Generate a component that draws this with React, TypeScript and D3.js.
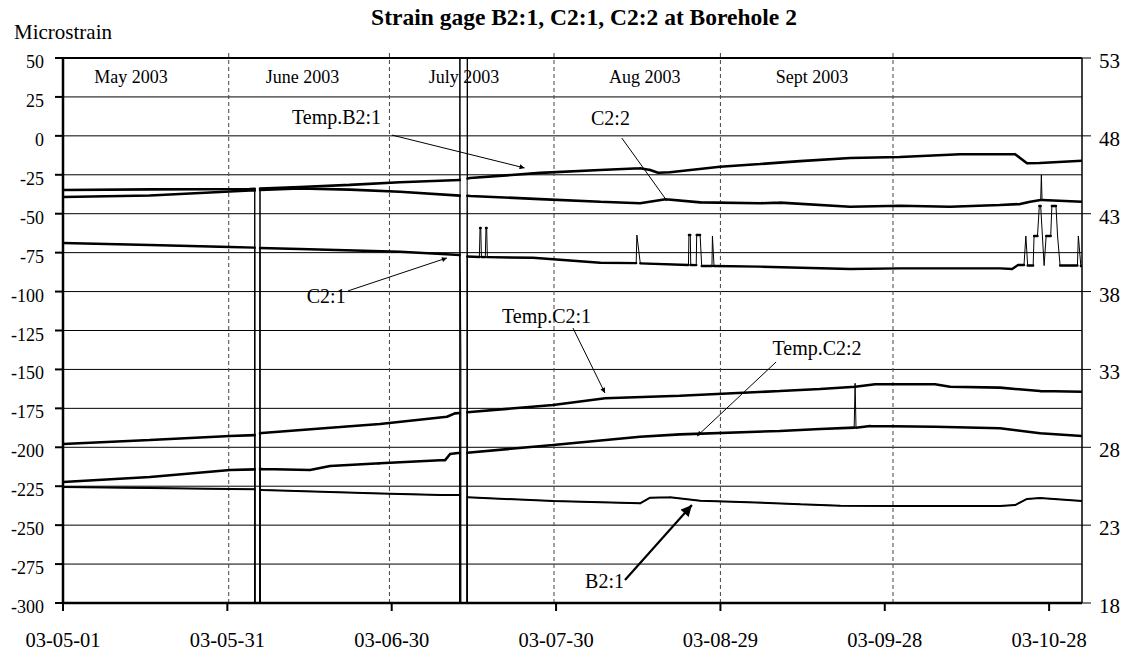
import React, { useEffect, useRef } from 'react';
import * as d3 from 'd3';

// logger dropouts read as values far off the scale
const LOW_L = -1000;
const LOW_R = -50;
const HIGH_R = 120;

const leftTicks = [50, 25, 0, -25, -50, -75, -100, -125, -150, -175, -200, -225, -250, -275, -300];
const rightTicks = [53, 48, 43, 38, 33, 28, 23, 18];
const dateTicks = ['2003-05-01', '2003-05-31', '2003-06-30', '2003-07-30', '2003-08-29', '2003-09-28', '2003-10-28'];
const monthSeparators = ['2003-05-31 06:00', '2003-06-29 14:00', '2003-07-29 15:00', '2003-08-29 00:00', '2003-09-29 12:00'];
const monthLabels: [string, string][] = [
  ['May 2003', '2003-05-13 10:00'],
  ['June 2003', '2003-06-13 17:00'],
  ['July 2003', '2003-07-13 05:00'],
  ['Aug 2003', '2003-08-15 05:00'],
  ['Sept 2003', '2003-09-14 17:00'],
];

type Pt = [string, number];

const tempB21: Pt[] = [
  ['2003-05-01', 44.52], ['2003-05-16 21:00', 44.56], ['2003-06-04 03:00', 44.59], ['2003-06-05 00:00', 44.6],
  ['2003-06-05 01:00', LOW_R], ['2003-06-05 22:00', LOW_R], ['2003-06-05 23:00', 44.62],
  ['2003-06-13 06:00', 44.72], ['2003-06-22 09:00', 44.85], ['2003-07-01 12:00', 45.02], ['2003-07-12 10:00', 45.17],
  ['2003-07-12 11:00', HIGH_R], ['2003-07-12 12:00', LOW_R], ['2003-07-13 18:00', LOW_R], ['2003-07-13 19:00', HIGH_R],
  ['2003-07-13 20:00', 45.26], ['2003-07-14 07:00', 45.29], ['2003-07-27 02:00', 45.62], ['2003-08-07 01:00', 45.81],
  ['2003-08-14 08:00', 45.92], ['2003-08-16 04:00', 45.81], ['2003-08-17 15:00', 45.63], ['2003-08-19 19:00', 45.66],
  ['2003-08-28 22:00', 46.02], ['2003-09-05 06:00', 46.19], ['2003-09-12 13:00', 46.38], ['2003-09-21 16:00', 46.58],
  ['2003-09-30 19:00', 46.64], ['2003-10-11 18:00', 46.82], ['2003-10-21 19:00', 46.82], ['2003-10-23 23:00', 46.24],
  ['2003-10-26 08:00', 46.26], ['2003-11-03 00:00', 46.4],
];

const c22: Pt[] = [
  ['2003-05-01', -39.3], ['2003-05-16 21:00', -38.3], ['2003-05-26 00:00', -36.7], ['2003-06-04 03:00', -35.1],
  ['2003-06-05 00:00', -35.0], ['2003-06-05 01:00', LOW_L], ['2003-06-05 22:00', LOW_L], ['2003-06-05 23:00', -34.8],
  ['2003-06-13 06:00', -33.8], ['2003-06-22 09:00', -34.5], ['2003-07-01 12:00', -35.9], ['2003-07-12 10:00', -38.4],
  ['2003-07-12 11:00', LOW_L], ['2003-07-13 18:00', LOW_L], ['2003-07-13 19:00', -38.5], ['2003-07-14 07:00', -38.6],
  ['2003-07-27 02:00', -40.6], ['2003-08-07 01:00', -42.3], ['2003-08-14 08:00', -43.3], ['2003-08-19 00:00', -40.7],
  ['2003-08-25 07:00', -42.7], ['2003-09-05 06:00', -43.3], ['2003-09-08 21:00', -42.9], ['2003-09-21 16:00', -45.5],
  ['2003-09-30 19:00', -44.9], ['2003-10-09 22:00', -45.5], ['2003-10-19 01:00', -44.4], ['2003-10-22 17:00', -43.8],
  ['2003-10-24 13:00', -42.3], ['2003-10-26 11:00', -41.2], ['2003-10-26 14:00', -25.1], ['2003-10-26 17:00', -41.2],
  ['2003-11-03 00:00', -42.3],
];

const c21: Pt[] = [
  ['2003-05-01', -68.8], ['2003-05-16 21:00', -70.1], ['2003-05-31 12:00', -71.4], ['2003-06-05 00:00', -71.8],
  ['2003-06-05 01:00', LOW_L], ['2003-06-05 22:00', LOW_L], ['2003-06-05 23:00', -72.0], ['2003-06-13 06:00', -72.7],
  ['2003-07-01 12:00', -74.4], ['2003-07-12 10:00', -76.5], ['2003-07-12 13:00', -97.0], ['2003-07-12 15:00', -143.0],
  ['2003-07-12 16:00', LOW_L], ['2003-07-13 18:00', LOW_L], ['2003-07-13 19:00', -77.5],
  ['2003-07-16 00:00', -77.8], ['2003-07-16 03:00', -59.2], ['2003-07-16 06:00', -59.2], ['2003-07-16 09:00', -77.8],
  ['2003-07-17 02:00', -77.9], ['2003-07-17 05:00', -59.2], ['2003-07-17 08:00', -59.2], ['2003-07-17 11:00', -77.9],
  ['2003-07-25 19:00', -78.3], ['2003-08-07 01:00', -81.5], ['2003-08-13 15:00', -81.7], ['2003-08-13 18:00', -63.7],
  ['2003-08-14 09:00', -81.9], ['2003-08-23 04:00', -82.9], ['2003-08-23 06:00', -63.7], ['2003-08-23 12:00', -63.7],
  ['2003-08-23 14:00', -82.9], ['2003-08-24 14:00', -83.0], ['2003-08-24 16:00', -63.7], ['2003-08-25 07:00', -63.7],
  ['2003-08-25 14:00', -83.6], ['2003-08-27 11:00', -83.6], ['2003-08-27 13:00', -64.3], ['2003-08-27 20:00', -83.6],
  ['2003-09-05 06:00', -84.0], ['2003-09-21 16:00', -85.5], ['2003-09-30 19:00', -85.1], ['2003-10-19 01:00', -85.1],
  ['2003-10-21 06:00', -85.5], ['2003-10-22 08:00', -82.9], ['2003-10-23 10:00', -82.9], ['2003-10-23 18:00', -64.3],
  ['2003-10-24 02:00', -83.3], ['2003-10-25 02:00', -83.3], ['2003-10-25 06:00', -64.3], ['2003-10-25 21:00', -64.3],
  ['2003-10-26 05:00', -45.0], ['2003-10-26 11:00', -45.0], ['2003-10-27 02:00', -83.3], ['2003-10-27 11:00', -64.3],
  ['2003-10-28 07:00', -64.3], ['2003-10-28 12:00', -45.0], ['2003-10-29 06:00', -45.0], ['2003-10-29 13:00', -64.3],
  ['2003-10-30 00:00', -83.3], ['2003-11-02 04:00', -83.3], ['2003-11-02 08:00', -64.3], ['2003-11-02 19:00', -83.6],
  ['2003-11-03 00:00', -83.6],
];

const tempC21: Pt[] = [
  ['2003-05-01', 28.21], ['2003-05-16 21:00', 28.47], ['2003-05-31 12:00', 28.72], ['2003-06-05 00:00', 28.78],
  ['2003-06-05 01:00', LOW_R], ['2003-06-05 22:00', LOW_R], ['2003-06-05 23:00', 28.9], ['2003-06-06 08:00', 28.92],
  ['2003-06-20 14:00', 29.3], ['2003-06-27 21:00', 29.5], ['2003-07-10 02:00', 29.96], ['2003-07-11 13:00', 30.18],
  ['2003-07-12 10:00', 30.2], ['2003-07-12 11:00', LOW_R], ['2003-07-13 18:00', LOW_R], ['2003-07-13 19:00', 30.25],
  ['2003-07-29 11:00', 30.72], ['2003-08-07 23:00', 31.15], ['2003-08-21 15:00', 31.31], ['2003-09-08 21:00', 31.61],
  ['2003-09-16 05:00', 31.74], ['2003-09-22 14:00', 31.89], ['2003-09-26 06:00', 32.05], ['2003-10-07 04:00', 32.05],
  ['2003-10-09 22:00', 31.89], ['2003-10-19 01:00', 31.83], ['2003-10-26 08:00', 31.61], ['2003-11-03 00:00', 31.57],
];

const tempC22: Pt[] = [
  ['2003-05-01', 25.77], ['2003-05-16 21:00', 26.09], ['2003-05-31 12:00', 26.54], ['2003-06-05 00:00', 26.58],
  ['2003-06-05 01:00', LOW_R], ['2003-06-05 22:00', LOW_R], ['2003-06-05 23:00', 26.6], ['2003-06-06 08:00', 26.61],
  ['2003-06-15 02:00', 26.54], ['2003-06-18 18:00', 26.8], ['2003-06-27 21:00', 26.97], ['2003-07-09 18:00', 27.18],
  ['2003-07-10 16:00', 27.57], ['2003-07-12 02:00', 27.63], ['2003-07-12 10:00', 27.63], ['2003-07-12 11:00', LOW_R],
  ['2003-07-13 18:00', LOW_R], ['2003-07-13 19:00', 27.65], ['2003-07-29 11:00', 28.15], ['2003-08-14 08:00', 28.68],
  ['2003-08-21 15:00', 28.83], ['2003-09-08 21:00', 29.05], ['2003-09-16 05:00', 29.17], ['2003-09-22 10:00', 29.26],
  ['2003-09-22 14:00', 32.11], ['2003-09-22 18:00', 29.26], ['2003-09-25 08:00', 29.37], ['2003-10-07 04:00', 29.32],
  ['2003-10-19 01:00', 29.22], ['2003-10-26 08:00', 28.9], ['2003-11-03 00:00', 28.72],
];

const b21: Pt[] = [
  ['2003-05-01', -225.5], ['2003-05-16 21:00', -226.2], ['2003-05-31 12:00', -226.8], ['2003-06-05 00:00', -227.0],
  ['2003-06-05 01:00', LOW_L], ['2003-06-05 22:00', LOW_L], ['2003-06-05 23:00', -227.2], ['2003-06-06 08:00', -227.4],
  ['2003-06-27 21:00', -229.6], ['2003-07-08 20:00', -230.6], ['2003-07-12 10:00', -230.7], ['2003-07-12 11:00', LOW_L],
  ['2003-07-13 18:00', LOW_L], ['2003-07-13 19:00', -232.1], ['2003-07-29 11:00', -234.5], ['2003-08-10 16:00', -235.6],
  ['2003-08-14 08:00', -236.0], ['2003-08-16 04:00', -232.4], ['2003-08-19 19:00', -232.1], ['2003-08-25 07:00', -234.3],
  ['2003-09-01 14:00', -235.1], ['2003-09-12 13:00', -236.6], ['2003-09-19 20:00', -237.5], ['2003-09-30 19:00', -237.7],
  ['2003-10-19 01:00', -237.7], ['2003-10-21 19:00', -237.1], ['2003-10-23 23:00', -233.2], ['2003-10-26 08:00', -232.6],
  ['2003-11-03 00:00', -234.5],
];

const series: { name: string; axis: 'left' | 'right'; data: Pt[]; width: number }[] = [
  { name: 'Temp.B2:1', axis: 'right', data: tempB21, width: 2.6 },
  { name: 'C2:2', axis: 'left', data: c22, width: 2.6 },
  { name: 'C2:1', axis: 'left', data: c21, width: 2.4 },
  { name: 'Temp.C2:1', axis: 'right', data: tempC21, width: 2.6 },
  { name: 'Temp.C2:2', axis: 'right', data: tempC22, width: 2.6 },
  { name: 'B2:1', axis: 'left', data: b21, width: 2.0 },
];

// label anchor and arrow, in date / microstrain units
const annotations: { label: string; text: Pt; from: Pt; to: Pt; head: 'small' | 'bold' | 'none' }[] = [
  { label: 'Temp.B2:1', text: ['2003-06-11 19:00', 7.6], from: ['2003-06-30 01:00', 0.5], to: ['2003-07-24 06:00', -20.6], head: 'small' },
  { label: 'C2:2', text: ['2003-08-05 09:00', 7.0], from: ['2003-08-11 00:00', -1.4], to: ['2003-08-19 06:00', -41.8], head: 'none' },
  { label: 'C2:1', text: ['2003-06-14 12:00', -107.3], from: ['2003-06-22 00:00', -99.6], to: ['2003-07-10 02:00', -78.4], head: 'small' },
  { label: 'Temp.C2:1', text: ['2003-07-20 03:00', -120.2], from: ['2003-08-02 02:00', -123.4], to: ['2003-08-07 22:00', -165.1], head: 'small' },
  { label: 'Temp.C2:2', text: ['2003-09-07 12:00', -140.7], from: ['2003-09-08 04:00', -145.2], to: ['2003-08-24 18:00', -192.8], head: 'small' },
  { label: 'B2:1', text: ['2003-08-04 07:00', -290.4], from: ['2003-08-11 14:00', -285.2], to: ['2003-08-23 19:00', -237.1], head: 'bold' },
];

const parseDT = d3.timeParse('%Y-%m-%d %H:%M');
const parseD = d3.timeParse('%Y-%m-%d');
const toDate = (s: string) => (s.length > 10 ? parseDT(s) : parseD(s)) as Date;

const WIDTH = 1131;
const HEIGHT = 655;
const FONT = '"Liberation Serif", "Times New Roman", Times, serif';

const StrainChart: React.FC = () => {
  const svgRef = useRef<SVGSVGElement>(null);

  useEffect(() => {
    if (!svgRef.current) return;
    const svg = d3.select(svgRef.current);
    svg.selectAll('*').remove();

    const left = 63, right = 1082, top = 58, bottom = 603;

    const x = d3.scaleTime().domain([toDate('2003-05-01'), toDate('2003-11-03')]).range([left, right]);
    const yL = d3.scaleLinear().domain([-300, 50]).range([bottom, top]);
    const yR = d3.scaleLinear().domain([18, 53]).range([bottom, top]);

    const defs = svg.append('defs');
    defs.append('clipPath').attr('id', 'plot-clip')
      .append('rect').attr('x', left).attr('y', top).attr('width', right - left).attr('height', bottom - top);
    defs.append('marker').attr('id', 'head-small').attr('viewBox', '0 0 10 10').attr('refX', 10).attr('refY', 5)
      .attr('markerWidth', 7).attr('markerHeight', 5).attr('markerUnits', 'userSpaceOnUse').attr('orient', 'auto')
      .append('path').attr('d', 'M0,0L10,5L0,10z').attr('fill', '#000');
    defs.append('marker').attr('id', 'head-bold').attr('viewBox', '0 0 10 10').attr('refX', 10).attr('refY', 5)
      .attr('markerWidth', 14).attr('markerHeight', 11).attr('markerUnits', 'userSpaceOnUse').attr('orient', 'auto')
      .append('path').attr('d', 'M0,0L10,5L0,10z').attr('fill', '#000');

    // horizontal grid
    svg.append('g').selectAll('line').data(leftTicks).enter().append('line')
      .attr('x1', left).attr('x2', right)
      .attr('y1', (d) => yL(d)).attr('y2', (d) => yL(d))
      .attr('stroke', '#000').attr('stroke-width', (d) => (d === 50 ? 2 : 1));

    // month separators
    svg.append('g').selectAll('line').data(monthSeparators).enter().append('line')
      .attr('x1', (d) => x(toDate(d))).attr('x2', (d) => x(toDate(d)))
      .attr('y1', top - 5).attr('y2', bottom)
      .attr('stroke', '#444').attr('stroke-width', 1).attr('stroke-dasharray', '4,3');

    svg.append('g').selectAll('text').data(monthLabels).enter().append('text')
      .attr('x', (d) => x(toDate(d[1]))).attr('y', yL(33.8))
      .attr('text-anchor', 'middle').style('font-family', FONT).style('font-size', '18px')
      .text((d) => d[0]);

    // data lines: thin connecting line, heavy where the record is continuous
    const plot = svg.append('g').attr('clip-path', 'url(#plot-clip)');
    series.forEach((s) => {
      const y = s.axis === 'left' ? yL : yR;
      const pts = s.data.map((d) => [x(toDate(d[0])), y(d[1])] as [number, number]);
      plot.append('path').attr('d', d3.line()(pts))
        .attr('fill', 'none').attr('stroke', '#000').attr('stroke-width', 1);
      let heavy = '';
      for (let i = 1; i < pts.length; i++) {
        const [x0, y0] = pts[i - 1];
        const [x1, y1] = pts[i];
        if (Math.abs(y1 - y0) <= 2 * Math.abs(x1 - x0) + 1) heavy += `M${x0},${y0}L${x1},${y1}`;
      }
      plot.append('path').attr('d', heavy)
        .attr('fill', 'none').attr('stroke', '#000').attr('stroke-width', s.width)
        .attr('stroke-linecap', 'round').attr('stroke-linejoin', 'round');
    });

    // axes
    const axisG = svg.append('g');
    axisG.append('line').attr('x1', left).attr('x2', left).attr('y1', top).attr('y2', bottom + 1)
      .attr('stroke', '#000').attr('stroke-width', 2.5);
    axisG.append('line').attr('x1', left - 1).attr('x2', right).attr('y1', bottom).attr('y2', bottom)
      .attr('stroke', '#000').attr('stroke-width', 2.5);
    axisG.append('line').attr('x1', right).attr('x2', right).attr('y1', top).attr('y2', bottom)
      .attr('stroke', '#000').attr('stroke-width', 1.5);

    axisG.selectAll('.tl').data(leftTicks).enter().append('line').attr('class', 'tl')
      .attr('x1', left - 8).attr('x2', left).attr('y1', (d) => yL(d)).attr('y2', (d) => yL(d))
      .attr('stroke', '#000').attr('stroke-width', 2);
    axisG.selectAll('.ll').data(leftTicks).enter().append('text').attr('class', 'll')
      .attr('x', 44).attr('y', (d) => yL(d) + 10).attr('text-anchor', 'end')
      .style('font-family', FONT).style('font-size', '18px').text((d) => String(d));

    axisG.selectAll('.tr').data(rightTicks).enter().append('line').attr('class', 'tr')
      .attr('x1', right).attr('x2', right + 9).attr('y1', (d) => yR(d)).attr('y2', (d) => yR(d))
      .attr('stroke', '#000').attr('stroke-width', 1);
    axisG.selectAll('.lr').data(rightTicks).enter().append('text').attr('class', 'lr')
      .attr('x', 1099).attr('y', (d) => yR(d) + 10)
      .style('font-family', FONT).style('font-size', '21px').text((d) => String(d));

    axisG.selectAll('.tb').data(dateTicks).enter().append('line').attr('class', 'tb')
      .attr('x1', (d) => x(toDate(d))).attr('x2', (d) => x(toDate(d)))
      .attr('y1', bottom).attr('y2', bottom + 8).attr('stroke', '#000').attr('stroke-width', 2);
    const fmt = d3.timeFormat('%y-%m-%d');
    axisG.selectAll('.lb').data(dateTicks).enter().append('text').attr('class', 'lb')
      .attr('x', (d) => x(toDate(d))).attr('y', 646.5).attr('text-anchor', 'middle')
      .style('font-family', FONT).style('font-size', '20.5px').text((d) => fmt(toDate(d)));

    // annotations
    const ann = svg.append('g');
    annotations.forEach((a) => {
      ann.append('text').attr('x', x(toDate(a.text[0]))).attr('y', yL(a.text[1]))
        .style('font-family', FONT).style('font-size', '20px').text(a.label);
      ann.append('line')
        .attr('x1', x(toDate(a.from[0]))).attr('y1', yL(a.from[1]))
        .attr('x2', x(toDate(a.to[0]))).attr('y2', yL(a.to[1]))
        .attr('stroke', '#000').attr('stroke-width', a.head === 'bold' ? 2.2 : 1)
        .attr('marker-end', a.head === 'none' ? null : `url(#head-${a.head})`);
    });

    // titles
    svg.append('text').attr('x', 584).attr('y', 25).attr('text-anchor', 'middle')
      .style('font-family', FONT).style('font-size', '23.5px').style('font-weight', 'bold')
      .text('Strain gage B2:1, C2:1, C2:2 at Borehole 2');
    svg.append('text').attr('x', 14).attr('y', 39)
      .style('font-family', FONT).style('font-size', '21px').text('Microstrain');
  }, []);

  return (
    <svg
      ref={svgRef}
      width={WIDTH}
      height={HEIGHT}
      viewBox={`0 0 ${WIDTH} ${HEIGHT}`}
      style={{ position: 'absolute', left: 0, top: 0, background: '#fff' }}
    />
  );
};

export default function App() {
  return <StrainChart />;
}
